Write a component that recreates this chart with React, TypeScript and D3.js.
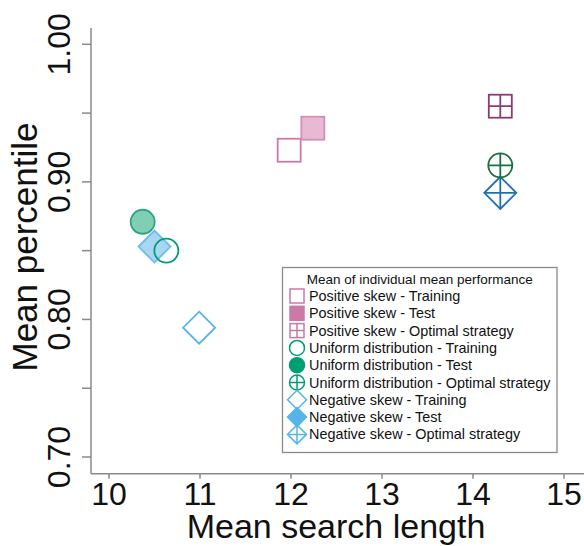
import React from "react";
import * as d3 from "d3";

const seriesNames = [
  "Positive skew - Training",
  "Positive skew - Test",
  "Positive skew - Optimal strategy",
  "Uniform distribution - Training",
  "Uniform distribution - Test",
  "Uniform distribution - Optimal strategy",
  "Negative skew - Training",
  "Negative skew - Test",
  "Negative skew - Optimal strategy",
];
const searchLength = [11.98, 12.24, 14.3, 10.63, 10.37, 14.3, 10.99, 10.5, 14.3];
const percentile = [0.923, 0.939, 0.955, 0.85, 0.871, 0.912, 0.794, 0.853, 0.892];
const shapes = ["square", "square", "square", "circle", "circle", "circle", "diamond", "diamond", "diamond"];
const styles = ["open", "filled", "optimal", "open", "filled", "optimal", "open", "filled", "optimal"];
const drawOrder = [6, 7, 8, 3, 4, 5, 0, 1, 2];

const xTicks = [10, 11, 12, 13, 14, 15];
const yTicks = [0.7, 0.75, 0.8, 0.85, 0.9, 0.95, 1.0];
const yTickLabels = ["0.70", "", "0.80", "", "0.90", "", "1.00"];

const palette: Record<string, { main: string; light: string; lightStroke: string; dark: string }> = {
  square: { main: "#CC79A7", light: "#E8B9D3", lightStroke: "#D68DB8", dark: "#8E3C70" },
  circle: { main: "#009E73", light: "#80CFB5", lightStroke: "#2AA77B", dark: "#1A7040" },
  diamond: { main: "#56B4E9", light: "#A9D6F3", lightStroke: "#6CBDEB", dark: "#2070B0" },
};

const FONT = "'Liberation Sans', Arial, Helvetica, sans-serif";

function Marker({ shape, style, cx, cy, size, legend }: any) {
  const pal = palette[shape];
  const sw = legend ? 1.5 : 1.8;
  let stroke = pal.main;
  let fill = "white";
  if (style === "filled") {
    fill = legend ? pal.main : pal.light;
    stroke = legend ? pal.main : pal.lightStroke;
  }
  if (style === "optimal") {
    stroke = legend ? pal.main : pal.dark;
    fill = "none";
  }
  if (style === "open") fill = legend ? "white" : "none";
  const h = size / 2;
  const cross = `M${cx - h},${cy}H${cx + h}M${cx},${cy - h}V${cy + h}`;
  if (shape === "square") {
    return (
      <g>
        <rect x={cx - h} y={cy - h} width={size} height={size} fill={fill} stroke={stroke} strokeWidth={sw} />
        {style === "optimal" && <path d={cross} stroke={stroke} strokeWidth={sw} />}
      </g>
    );
  }
  if (shape === "circle") {
    return (
      <g>
        <circle cx={cx} cy={cy} r={h} fill={fill} stroke={stroke} strokeWidth={sw} />
        {style === "optimal" && <path d={cross} stroke={stroke} strokeWidth={sw} />}
      </g>
    );
  }
  const d = `M${cx},${cy - h}L${cx + h},${cy}L${cx},${cy + h}L${cx - h},${cy}Z`;
  return (
    <g>
      <path d={d} fill={fill} stroke={stroke} strokeWidth={sw} strokeLinejoin="miter" />
      {style === "optimal" && <path d={cross} stroke={stroke} strokeWidth={sw} />}
    </g>
  );
}

export default function App() {
  const W = 584;
  const H = 546;
  const x = d3.scaleLinear().domain([10, 15]).range([109, 564]);
  const y = d3.scaleLinear().domain([0.7, 1.0]).range([457, 44.3]);
  const axisLeft = 91;
  const axisBottom = 473.7;
  const axisTop = 28;
  const axisColor = "#8a8a8a";

  const plotSize: Record<string, number> = { square: 23, circle: 24, diamond: 32 };
  const legendSize: Record<string, number> = { square: 14, circle: 15, diamond: 19 };

  const legX = 282.5, legY = 267.5, legW = 274.5, legH = 185;
  const rowY0 = 296, rowStep = 17.3;

  return (
    <svg width={W} height={H} style={{ position: "absolute", left: 0, top: 0 }} fontFamily={FONT}>
      <rect width={W} height={H} fill="white" />
      <line x1={axisLeft} x2={axisLeft} y1={axisTop} y2={axisBottom} stroke={axisColor} strokeWidth={1.5} />
      <line x1={axisLeft} x2={W} y1={axisBottom} y2={axisBottom} stroke={axisColor} strokeWidth={1.5} />
      {yTicks.map((t, i) => (
        <g key={"yt" + i}>
          <line x1={axisLeft - 9} x2={axisLeft} y1={y(t)} y2={y(t)} stroke={axisColor} strokeWidth={1.5} />
          {yTickLabels[i] && (
            <text
              transform={`translate(${axisLeft - 21},${y(t)}) rotate(-90)`}
              textAnchor="middle"
              fontSize={32}
              fill="#111"
            >
              {yTickLabels[i]}
            </text>
          )}
        </g>
      ))}
      {xTicks.map((t, i) => (
        <g key={"xt" + i}>
          <line x1={x(t)} x2={x(t)} y1={axisBottom} y2={axisBottom + 5} stroke={axisColor} strokeWidth={1.5} />
          <text x={x(t)} y={505} textAnchor="middle" fontSize={32} fill="#111">
            {t}
          </text>
        </g>
      ))}
      <text x={336} y={538} textAnchor="middle" fontSize={34} fill="#111">
        Mean search length
      </text>
      <text transform={`translate(37,247) rotate(-90)`} textAnchor="middle" fontSize={35} fill="#111">
        Mean percentile
      </text>

      {drawOrder.map((i) => (
        <Marker
          key={"p" + i}
          shape={shapes[i]}
          style={styles[i]}
          cx={x(searchLength[i])}
          cy={y(percentile[i])}
          size={plotSize[shapes[i]]}
        />
      ))}

      <rect x={legX} y={legY} width={legW} height={legH} fill="white" stroke="#8a8a8a" strokeWidth={1.3} />
      <text x={legX + legW / 2} y={283.5} textAnchor="middle" fontSize={13.5} fill="#111">
        Mean of individual mean performance
      </text>
      {seriesNames.map((name, i) => {
        const cy = rowY0 + i * rowStep;
        return (
          <g key={"l" + i}>
            <Marker shape={shapes[i]} style={styles[i]} cx={297} cy={cy} size={legendSize[shapes[i]]} legend />
            <text x={309} y={cy + 5} fontSize={14.4} fill="#111">
              {name}
            </text>
          </g>
        );
      })}
    </svg>
  );
}
